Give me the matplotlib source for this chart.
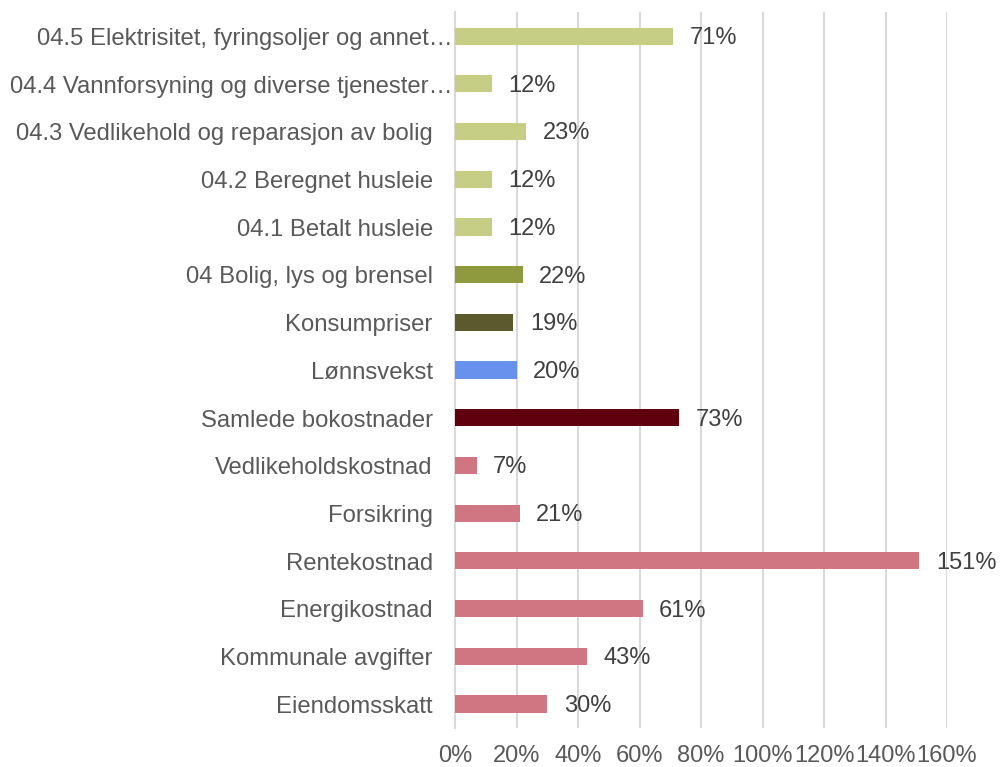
import matplotlib.pyplot as plt
import matplotlib.transforms as mtransforms
from matplotlib.ticker import FuncFormatter

plt.rcParams['font.family'] = ['Liberation Sans', 'DejaVu Sans']

# categories bottom to top
categories = ['Eiendomsskatt', 'Kommunale avgifter', 'Energikostnad', 'Rentekostnad',
              'Forsikring', 'Vedlikeholdskostnad', 'Samlede bokostnader', 'Lønnsvekst',
              'Konsumpriser', '04 Bolig, lys og brensel', '04.1 Betalt husleie',
              '04.2 Beregnet husleie', '04.3 Vedlikehold og reparasjon av bolig',
              '04.4 Vannforsyning og diverse tjenester…',
              '04.5 Elektrisitet, fyringsoljer og annet…']
values = [30, 43, 61, 151, 21, 7, 73, 20, 19, 22, 12, 12, 23, 12, 71]

pink = '#CF7682'
light_green = '#C5CE84'
colors = [pink] * 6 + ['#60000E', '#6891EE', '#5B5A2D', '#8F9A3E'] + [light_green] * 5

xticks = [0, 20, 40, 60, 80, 100, 120, 140, 160]

fig = plt.figure(figsize=(10, 7.67), dpi=100)
ax = fig.add_axes([0.455, 0.051, 0.492, 0.933])

y = range(len(categories))
ax.barh(y, values, height=0.36, color=colors, zorder=3)

for i, v in enumerate(values):
    ax.annotate(f'{v}%', (v, i - 0.04), xytext=(12, 0), textcoords='offset points',
                va='center', ha='left', fontsize=17, color='#404040')

# category labels drawn by hand: the cut ones (with …) reach the axis
trans = mtransforms.blended_transform_factory(ax.transAxes, ax.transData)
for i, c in enumerate(categories):
    gap = 1.5 if c.endswith('…') else 16
    off = mtransforms.offset_copy(trans, fig=fig, x=-gap, y=-2, units='points')
    ax.text(0, i, c, transform=off, ha='right', va='center',
            fontsize=17.2, color='#595959')

ax.set_xlim(0, 160)
ax.set_ylim(-0.5, len(categories) - 0.5)
ax.set_xticks(xticks)
ax.xaxis.set_major_formatter(FuncFormatter(lambda x, p: f'{x:.0f}%'))
ax.set_yticks([])

ax.grid(axis='x', color='#D9D9D9', linewidth=1.5, zorder=0)
ax.tick_params(axis='both', length=0, labelsize=17, labelcolor='#595959')
ax.tick_params(axis='x', pad=12)
for s in ['top', 'right', 'bottom']:
    ax.spines[s].set_visible(False)
ax.spines['left'].set_color('#D9D9D9')
ax.spines['left'].set_linewidth(1.5)

fig.savefig('out.png', dpi=100)
